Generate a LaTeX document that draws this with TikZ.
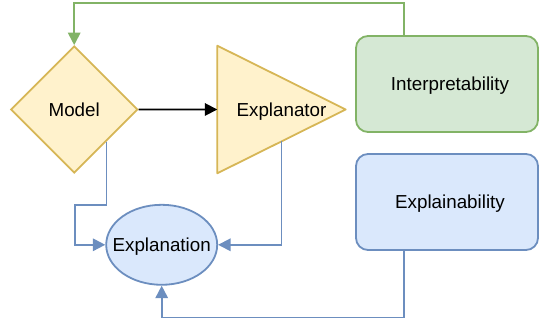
\documentclass[tikz,border=0pt]{standalone}
\usepackage{fontspec}
\setmainfont{Liberation Sans}
\usetikzlibrary{positioning, shapes.geometric, arrows.meta, calc}
\definecolor{yfill}{HTML}{FFF2CC}
\definecolor{ydraw}{HTML}{D6B656}
\definecolor{gfill}{HTML}{D5E8D4}
\definecolor{gdraw}{HTML}{82B366}
\definecolor{bfill}{HTML}{DAE8FC}
\definecolor{bdraw}{HTML}{6C8EBF}

\begin{document}
\begin{tikzpicture}[
    x=1pt, y=-1pt,
    every node/.style={font=\fontsize{18.8}{22}\selectfont, text depth=0pt},
    dm/.style={diamond, draw=ydraw, fill=yfill, line width=1.8pt, minimum width=127pt, minimum height=127pt, inner sep=0pt},
    tri/.style={draw=ydraw, fill=yfill, line width=1.8pt, line join=round},
    bx/.style={rectangle, rounded corners=12pt, draw=#1draw, fill=#1fill, line width=1.8pt, minimum width=182pt, minimum height=96pt},
    el/.style={ellipse, draw=bdraw, fill=bfill, line width=1.8pt, minimum width=111pt, minimum height=80pt, inner sep=0pt},
    ln/.style={line width=1.8pt, -{Triangle[length=12.5pt,width=12.5pt]}}
  ]
  \useasboundingbox (0,0) rectangle (539,320);
  \node[dm] (model) at (74.2,109.5) {Model};
  \draw[tri] (217.3,45.7) coordinate (tri-nw) -- (345.7,109.5) coordinate (tri-e) -- (217.3,173.3) coordinate (tri-sw) -- cycle;
  \coordinate (tri-w) at ($(tri-nw)!0.5!(tri-sw)$);
  \node (expl) at (281.5,109.5) {Explanator};
  \node[bx=g, label={[xshift=3pt]center:Interpretability}] (interp) at (447,84) {};
  \node[bx=b, label={[xshift=3pt]center:Explainability}] (explb) at (447,202) {};
  \node[el, label=center:Explanation] (expla) at (161.7,244.8) {};
  % connectors
  \draw[ln, gdraw] ($(interp.north west)!0.265!(interp.north east)$) -- ++(0,-31.7) -| (model.north);
  \draw[ln] (model.east) -- (tri-w);
  \draw[ln, bdraw] ($(model.east)!0.5!(model.south)$) -- ++(0,63.3) -- ++(-31.8,0) |- (expla.west);
  \draw[ln, bdraw] ($(tri-e)!0.5!(tri-sw)$) |- (expla.east);
  \draw[ln, bdraw] ($(explb.south west)!0.265!(explb.south east)$) -- ++(0,66.7) -| (expla.south);
\end{tikzpicture}
\end{document}
